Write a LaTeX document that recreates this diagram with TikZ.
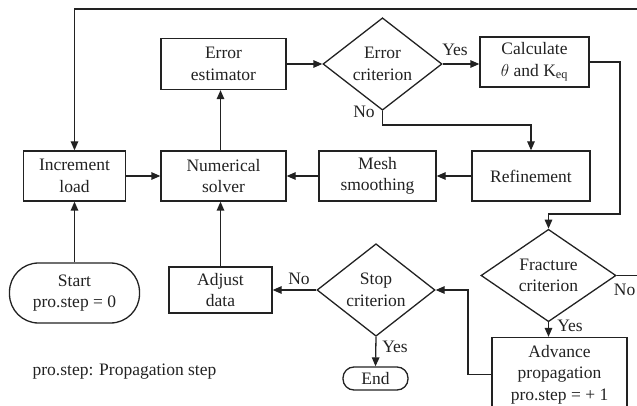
\documentclass[tikz,border=0pt]{standalone}
\usepackage{fontspec}
\setmainfont{Liberation Serif}
\usetikzlibrary{shapes.geometric,arrows.meta}
\definecolor{ink}{HTML}{222222}
\begin{document}
\begin{tikzpicture}[x=1pt,y=-1pt,
  line width=1.3pt, draw=ink,
  every node/.style={font=\fontsize{17.5}{21.5}\selectfont, align=center, inner sep=0pt, text=ink},
  box/.style={draw=ink, rectangle},
  dia/.style={draw=ink, diamond},
  term/.style={draw=ink, rectangle},
  lbl/.style={draw=none},
  arr/.style={draw=ink, -{Triangle[length=9pt,width=7.5pt]}},
  conn/.style={draw=ink}
]
\useasboundingbox (0,0) rectangle (637,406);
\clip (0,0) rectangle (637,406);

% nodes
\node[box, minimum width=102pt, minimum height=50pt] (inc) at (74.5,176) {Increment\\load};
\node[box, minimum width=125pt, minimum height=50pt] (num) at (223.5,176) {Numerical\\solver};
\node[box, minimum width=125pt, minimum height=51pt] (est) at (223.5,64) {Error\\estimator};
\node[dia, minimum width=119pt, minimum height=85pt] (errc) at (382.5,64) {Error\\criterion};
\node[box, minimum width=109pt, minimum height=50pt] (calc) at (534.5,62) {Calculate\\$\theta$ and K\textsubscript{eq}};
\node[box, minimum width=118pt, minimum height=50pt] (ref) at (531,176) {Refinement};
\node[box, minimum width=117pt, minimum height=50pt] (mesh) at (377.5,176) {Mesh\\smoothing};
\node[term, minimum width=130pt, minimum height=60pt, rounded corners=29pt] (start) at (74.5,293) {Start\\pro.step = 0};
\node[box, minimum width=103pt, minimum height=46pt] (adj) at (220.5,290) {Adjust\\data};
\node[dia, minimum width=118pt, minimum height=86pt] (stop) at (376,290) {Stop\\criterion};
\node[term, minimum width=65pt, minimum height=23pt, rounded corners=11pt] (end) at (375.5,378.5) {End};
\node[dia, minimum width=135pt, minimum height=75pt] (frac) at (548.5,275.5) {Fracture\\criterion};
\node[box, minimum width=135pt, minimum height=74pt] (adv) at (559.5,374.5) {Advance\\propagation\\pro.step = + 1};
\node[lbl, anchor=west] (note) at (32,372) {pro.step: Propagation step};

% labels
\node[lbl] (yes1) at (455,50) {Yes};
\node[lbl] (no1) at (364,112) {No};
\node[lbl] (no2) at (299,279) {No};
\node[lbl] (yes2) at (395,347) {Yes};
\node[lbl] (yes3) at (570,326) {Yes};
\node[lbl, anchor=east] (no3) at (636,290) {No};

% bend coordinates
\coordinate (k1) at (382.5,125);
\coordinate (b1) at (620,214);
\coordinate (b2) at (468,290);
\coordinate (t1) at (660,275.5);
\coordinate (t2) at (74.5,9);

% connectors
\draw[arr] (start.north) -- (inc.south);
\draw[arr] (inc) -- (num);
\draw[arr] (adj.north) -- (adj.north |- num.south);
\draw[arr] (adj.north |- num.north) -- (adj.north |- est.south);
\draw[arr] (est.east) -- (errc.west);
\draw[arr] (errc.east) -- (errc.east -| calc.west);
\draw[arr] (errc.south) -- (k1) -| (ref.north);
\draw[arr] (ref) -- (mesh);
\draw[arr] (mesh) -- (num);
\draw[arr] (calc.east) -| (b1) -| (frac.north);
\draw[arr] (frac.south) -- (frac.south |- adv.north);
\draw[arr] (adv.west) -| (b2) -- (stop.east);
\draw[arr] (stop.west) -- (adj.east);
\draw[arr] (stop.south) -- (end.north);
\draw[arr] (frac.east) -- (t1) |- (t2) -- (inc.north);
\end{tikzpicture}
\end{document}
